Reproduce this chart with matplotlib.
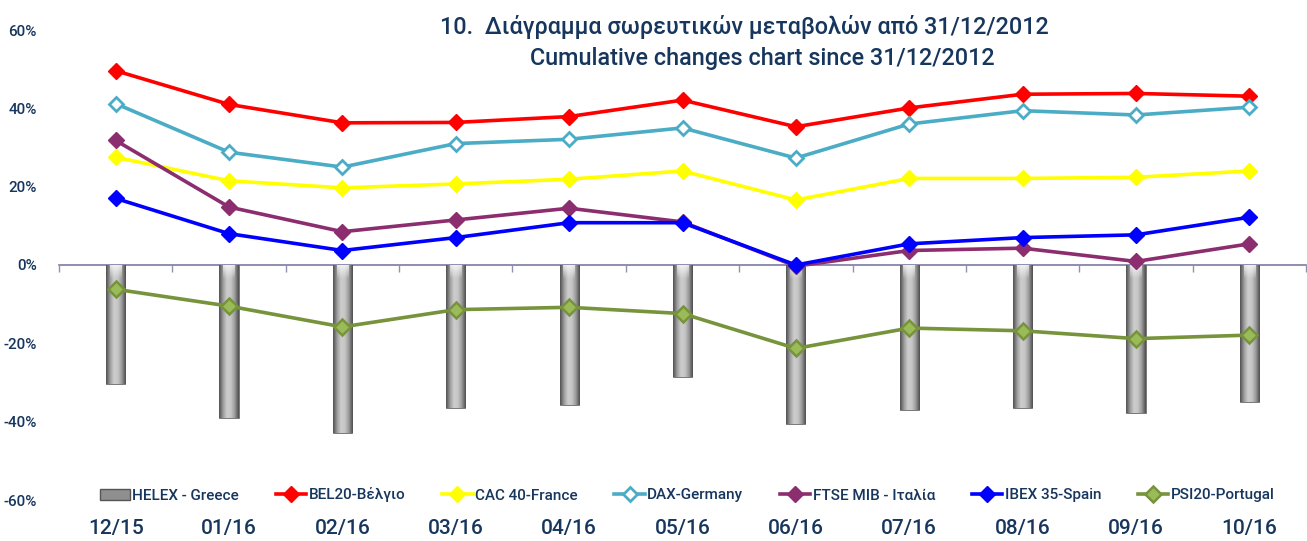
import matplotlib
matplotlib.use('Agg')
import matplotlib.pyplot as plt
import numpy as np
from matplotlib.colors import LinearSegmentedColormap
from matplotlib.ticker import FixedLocator, FuncFormatter
from matplotlib.patches import Rectangle

plt.rcParams['font.family'] = ['Roboto', 'DejaVu Sans']
plt.rcParams['font.weight'] = 'medium'

months = ['12/15', '01/16', '02/16', '03/16', '04/16', '05/16',
          '06/16', '07/16', '08/16', '09/16', '10/16']
helex = [-30.4, -39.0, -43.0, -36.4, -35.7, -28.7, -40.5, -37.0, -36.4, -37.9, -35.0]
bel20 = [49.6, 41.0, 36.3, 36.4, 37.9, 42.1, 35.3, 40.1, 43.6, 43.8, 43.1]
cac40 = [27.5, 21.5, 19.7, 20.7, 21.9, 24.0, 16.6, 22.1, 22.1, 22.4, 24.0]
dax = [41.2, 28.8, 25.0, 31.0, 32.1, 35.0, 27.3, 36.0, 39.4, 38.3, 40.3]
ftse = [31.8, 14.8, 8.5, 11.5, 14.5, 11.0, -0.3, 3.7, 4.3, 0.9, 5.4]
ibex = [17.0, 8.0, 3.7, 7.0, 10.8, 10.8, 0.0, 5.4, 7.0, 7.7, 12.2]
psi20 = [-6.2, -10.5, -15.8, -11.4, -10.8, -12.4, -21.3, -16.1, -16.8, -18.8, -17.9]

labels = ['HELEX - Greece', 'BEL20-Βέλγιο', 'CAC 40-France', 'DAX-Germany',
          'FTSE MIB - Ιταλία', 'IBEX 35-Spain', 'PSI20-Portugal']
title1 = '10.  Διάγραμμα σωρευτικών μεταβολών από 31/12/2012'
title2 = 'Cumulative changes chart since 31/12/2012'

navy = '#17365D'
W, H = 1307, 541
fig = plt.figure(figsize=(W / 100, H / 100), dpi=100)
ax = fig.add_axes([59 / W, 1 - 500 / H, 1247 / W, 470 / H])

x = np.arange(len(months))
bars = ax.bar(x, helex, width=0.17, color='#a8a8a8', edgecolor='#6a6a6a',
              linewidth=0.6, zorder=2)
cmap = LinearSegmentedColormap.from_list('cyl', ['#505050', '#9c9c9c', '#cdcdcd',
                                                 '#c6c6c6', '#9a9a9a', '#4c4c4c'])
grad = np.linspace(0, 1, 64).reshape(1, -1)
cap = np.linspace(1, 0, 32).reshape(-1, 1)
capmap = LinearSegmentedColormap.from_list('cap', [(1, 1, 1, 0), (1, 1, 1, 0.75)])
for b in bars:
    x0, y0 = b.get_x(), b.get_y()
    w, h = b.get_width(), b.get_height()
    im = ax.imshow(grad, extent=[x0, x0 + w, y0 + h, y0], aspect='auto',
                   cmap=cmap, zorder=2.1, interpolation='bicubic')
    im.set_clip_path(b)
    im2 = ax.imshow(cap, extent=[x0 + 0.2 * w, x0 + 0.8 * w, -3.5, 0], aspect='auto',
                    cmap=capmap, zorder=2.2, interpolation='bicubic')
    im2.set_clip_path(b)

handles = []
handles.append(Rectangle((0, 0), 1, 1, facecolor='#8f8f8f', edgecolor='#555555', lw=1))
lw, ms = 2.6, 8
handles.append(ax.plot(x, bel20, color='#FF0000', lw=lw, marker='D', ms=ms, zorder=3)[0])
handles.append(ax.plot(x, cac40, color='#FFFF00', lw=lw, marker='D', ms=ms, zorder=3)[0])
handles.append(ax.plot(x, dax, color='#4BACC6', lw=lw, marker='D', ms=ms - 1, mfc='white',
                       mec='#4BACC6', mew=2, zorder=3)[0])
handles.append(ax.plot(x, ftse, color='#8B2D6E', lw=lw, marker='D', ms=ms, zorder=3)[0])
handles.append(ax.plot(x, ibex, color='#0000FF', lw=lw, marker='D', ms=ms, zorder=3)[0])
handles.append(ax.plot(x, psi20, color='#77933C', lw=lw, marker='D', ms=ms, mfc='#9BBB59',
                       mec='#77933C', mew=1.8, zorder=3)[0])

ax.set_xlim(-0.5, len(months) - 0.5)
ax.set_ylim(-60, 60)
ax.set_yticks(np.arange(-60, 61, 20))
ax.yaxis.set_major_formatter(FuncFormatter(lambda v, p: f'{v:.0f}%'))
ax.tick_params(axis='y', length=0, pad=16, labelsize=11, labelcolor=navy)

for s in ['top', 'right', 'left']:
    ax.spines[s].set_visible(False)
ax.spines['bottom'].set_position(('data', 0))
ax.spines['bottom'].set_color('#7B7BA0')
ax.spines['bottom'].set_linewidth(1.2)
ax.spines['bottom'].set_zorder(1)
ax.set_xticks(x)
ax.tick_params(axis='x', which='major', length=0, labelbottom=False)
ax.xaxis.set_minor_locator(FixedLocator(np.arange(-0.5, len(months), 1.0)))
ax.tick_params(axis='x', which='minor', direction='out', length=5,
               color='#9090B0', width=1)

sec = ax.secondary_xaxis(0)
sec.set_xticks(x, labels=months)
sec.tick_params(length=0, pad=14, labelsize=15, labelcolor=navy)
sec.spines['bottom'].set_visible(False)

leg = fig.legend(handles, labels, loc='center', bbox_to_anchor=(687 / W, 1 - 495 / H),
                 ncol=7, frameon=False, fontsize=11, handlelength=2.0,
                 handletextpad=0.15, columnspacing=2.4, labelcolor=navy)

fig.text(744 / W, 1 - 27 / H, title1, ha='center', va='center', fontsize=16.8, color=navy)
fig.text(762 / W, 1 - 58 / H, title2, ha='center', va='center', fontsize=16.8, color=navy)

fig.savefig('out.png', dpi=100)
